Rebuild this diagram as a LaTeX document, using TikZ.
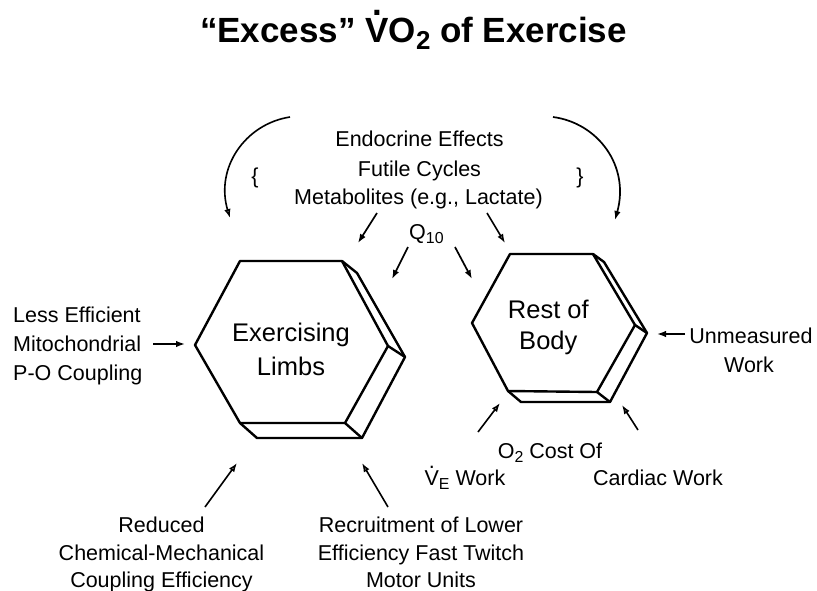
\documentclass[tikz,border=0pt]{standalone}
\usepackage{fontspec}
\setmainfont{Liberation Sans}
\usetikzlibrary{arrows.meta}
\newcommand{\Vd}{\leavevmode\hbox{\ooalign{V\cr\hidewidth\smash{\raisebox{0.77em}{.}}\hidewidth\cr}}}
\makeatletter
\newcommand{\sbs}[1]{\begingroup\@tempdima=\f@size pt\@tempdima=0.74\@tempdima\raisebox{-0.22em}{\fontsize{\strip@pt\@tempdima}{0}\selectfont #1}\endgroup}
\makeatother
\begin{document}
\begin{tikzpicture}[x=1pt,y=-1pt,
  lbl/.style={font=\fontsize{21.5}{28.5}\selectfont, inner sep=0pt, anchor=base},
  hexlbl/.style={font=\fontsize{25.5}{32}\selectfont, inner sep=0pt, anchor=base},
  hexline/.style={line width=2.4pt, line join=round},
  arr/.style={line width=1.7pt, -{Latex[length=9pt,width=6.5pt]}},
  arro/.style={line width=1.6pt, -{Latex[open,length=9pt,width=6.5pt]}}]
\useasboundingbox (0,0) rectangle (817,590);
% title
\node[inner sep=0pt, anchor=base, font=\fontsize{35}{42}\bfseries\selectfont] (title) at (413.5,42) {“Excess” \Vd O\sbs{2} of Exercise};
% top labels
\node[lbl] (endo) at (419.5,146.7) {Endocrine Effects};
\node[lbl] (futile) at (419.5,176) {Futile Cycles};
\node[lbl] (metab) at (418.5,204) {Metabolites (e.g., Lactate)};
\node[lbl, anchor=base west] (q10) at (409,239) {Q\sbs{10}};
\node[lbl] (lbr) at (255,183) {\{};
\node[lbl] (rbr) at (580,183) {\}};
% left labels
\node[lbl, anchor=base west] (less) at (13,322) {Less Efficient};
\node[lbl, anchor=base west] (mito) at (13,351) {Mitochondrial};
\node[lbl, anchor=base west] (po) at (13,380) {P-O Coupling};
% hexagon labels
\node[hexlbl] (exer) at (291,341.7) {Exercising};
\node[hexlbl] (limbs) at (291,375) {Limbs};
\node[hexlbl] (restof) at (548.3,318) {Rest of};
\node[hexlbl] (body) at (548.3,349) {Body};
% right labels
\node[lbl] (unmeas) at (751,343) {Unmeasured};
\node[lbl] (work) at (749,372.7) {Work};
% bottom right
\node[lbl] (o2cost) at (550,458) {O\sbs{2} Cost Of};
\node[lbl] (vework) at (465,485) {\Vd\sbs{E} Work};
\node[lbl] (cardiac) at (658,485) {Cardiac Work};
% bottom left
\node[lbl] (red1) at (161.5,532) {Reduced};
\node[lbl] (red2) at (161.5,560) {Chemical-Mechanical};
\node[lbl] (red3) at (161.5,587) {Coupling Efficiency};
\node[lbl] (rec1) at (421,532) {Recruitment of Lower};
\node[lbl] (rec2) at (421,560) {Efficiency Fast Twitch};
\node[lbl] (rec3) at (421,587) {Motor Units};
% left hexagon
\coordinate (hL) at (195,345); \coordinate (hTL) at (240,261);
\coordinate (hTR) at (342,261); \coordinate (hR) at (388,346);
\coordinate (hBR) at (345,423); \coordinate (hBL) at (240,423);
\coordinate (hTRb) at (357,273); \coordinate (hRb) at (405,357);
\coordinate (hBRb) at (362,438); \coordinate (hBLb) at (257,438);
\draw[hexline] (hL) -- (hTL) -- (hTR) -- (hR) -- (hBR) -- (hBL) -- cycle;
\draw[hexline] (hTR) -- (hTRb) -- (hRb) -- (hBRb) -- (hBLb) -- (hBL);
\draw[hexline] (hR) -- (hRb);
\draw[hexline] (hBR) -- (hBRb);
% right hexagon
\coordinate (rL) at (472,323); \coordinate (rTL) at (510,254);
\coordinate (rTR) at (593,254); \coordinate (rR) at (635,325);
\coordinate (rBR) at (597,392); \coordinate (rBL) at (508,391);
\coordinate (rTRb) at (604,262); \coordinate (rRb) at (647,333);
\coordinate (rBRb) at (610,402); \coordinate (rBLb) at (521,402);
\draw[hexline] (rL) -- (rTL) -- (rTR) -- (rR) -- (rBR) -- (rBL) -- cycle;
\draw[hexline] (rTR) -- (rTRb) -- (rRb) -- (rBRb) -- (rBLb) -- (rBL);
\draw[hexline] (rR) -- (rRb);
\draw[hexline] (rBR) -- (rBRb);
% arrow end points
\coordinate (c1s) at (290,117); \coordinate (c1e) at (230,218);
\coordinate (c2s) at (553,117); \coordinate (c2e) at (615,220);
\coordinate (m1s) at (377,213); \coordinate (m1e) at (358,243);
\coordinate (m2s) at (487,213); \coordinate (m2e) at (505,243);
\coordinate (q1s) at (408,247); \coordinate (q1e) at (392,279);
\coordinate (q2s) at (455,247); \coordinate (q2e) at (472,279);
\coordinate (mis) at (153,344); \coordinate (mie) at (185,344);
\coordinate (b1s) at (205,507); \coordinate (b1e) at (237,463);
\coordinate (b2s) at (388,507); \coordinate (b2e) at (362,463);
\coordinate (uns) at (685,334); \coordinate (une) at (657,334);
\coordinate (v1s) at (478,432); \coordinate (v1e) at (500,403);
\coordinate (v2s) at (638,430); \coordinate (v2e) at (622,405);
% arrows
\draw[arro] (c1s) .. controls (245,124) and (215,168) .. (c1e);
\draw[arr] (c2s) .. controls (598,123) and (630,166) .. (c2e);
\draw[arr] (m1s) -- (m1e);
\draw[arro] (m2s) -- (m2e);
\draw[arr] (q1s) -- (q1e);
\draw[arr] (q2s) -- (q2e);
\draw[arr] (mis) -- (mie);
\draw[arro] (b1s) -- (b1e);
\draw[arro] (b2s) -- (b2e);
\draw[arr] (uns) -- (une);
\draw[arro] (v1s) -- (v1e);
\draw[arro] (v2s) -- (v2e);
\end{tikzpicture}
\end{document}
